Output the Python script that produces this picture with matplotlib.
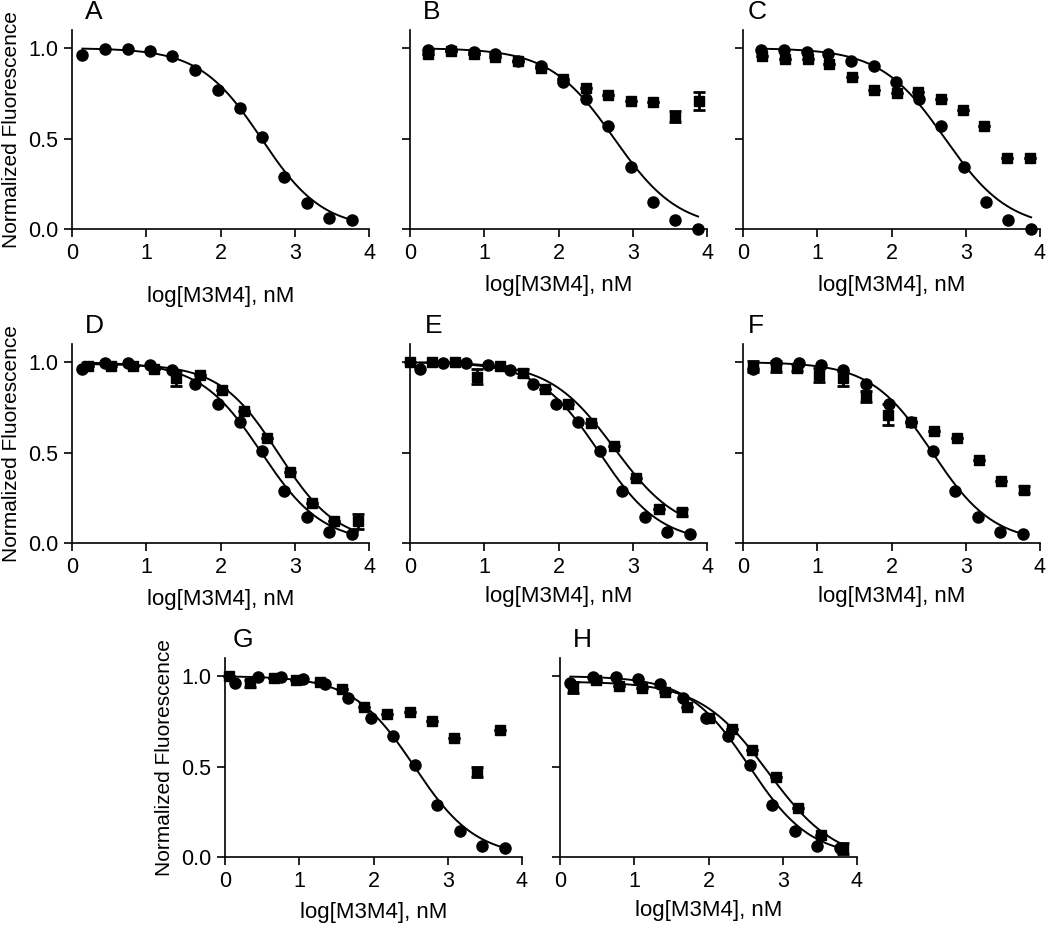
import numpy as np
import matplotlib
matplotlib.use("Agg")
import matplotlib.pyplot as plt

plt.rcParams['font.family'] = ['Liberation Sans', 'DejaVu Sans']

# reference (circles) shared by A, D, E, F, G, H
ref_x = [0.14, 0.45, 0.75, 1.05, 1.35, 1.66, 1.96, 2.26, 2.56, 2.86, 3.16, 3.46, 3.77]
ref_y = [0.96, 0.995, 0.995, 0.985, 0.955, 0.88, 0.77, 0.67, 0.51, 0.29, 0.145, 0.06, 0.05]

# circles in B and C
bc_x = [0.24, 0.55, 0.86, 1.15, 1.46, 1.76, 2.06, 2.37, 2.67, 2.97, 3.27, 3.57, 3.88]
bc_y = [0.99, 0.99, 0.98, 0.97, 0.93, 0.90, 0.81, 0.72, 0.57, 0.34, 0.15, 0.05, 0.0]

# squares per panel
b_sq_x = [0.24, 0.55, 0.86, 1.15, 1.46, 1.76, 2.06, 2.37, 2.67, 2.97, 3.27, 3.57, 3.89]
b_sq_y = [0.97, 0.985, 0.97, 0.95, 0.93, 0.89, 0.83, 0.78, 0.74, 0.71, 0.70, 0.62, 0.71]
b_sq_e = [0, 0, 0, 0, 0, 0, 0, 0, 0, 0, 0, 0.03, 0.05]

c_sq_x = [0.25, 0.57, 0.87, 1.16, 1.47, 1.77, 2.07, 2.36, 2.67, 2.96, 3.25, 3.56, 3.87]
c_sq_y = [0.955, 0.94, 0.94, 0.91, 0.84, 0.77, 0.75, 0.76, 0.72, 0.66, 0.57, 0.39, 0.39]
c_sq_e = [0] * 13

d_sq_x = [0.22, 0.52, 0.82, 1.10, 1.40, 1.72, 2.02, 2.32, 2.63, 2.93, 3.23, 3.53, 3.85]
d_sq_y = [0.98, 0.98, 0.98, 0.96, 0.91, 0.93, 0.845, 0.73, 0.58, 0.39, 0.22, 0.12, 0.12]
d_sq_e = [0, 0, 0, 0, 0.04, 0, 0, 0, 0, 0, 0, 0, 0.04]

e_sq_x = [0.0, 0.30, 0.60, 0.90, 1.21, 1.52, 1.82, 2.13, 2.44, 2.75, 3.05, 3.36, 3.67]
e_sq_y = [1.0, 1.0, 1.0, 0.92, 0.98, 0.94, 0.85, 0.77, 0.665, 0.535, 0.36, 0.19, 0.17]
e_sq_e = [0, 0, 0, 0.04, 0, 0.02, 0, 0, 0, 0, 0, 0, 0.02]

f_sq_x = [0.13, 0.45, 0.73, 1.02, 1.35, 1.65, 1.95, 2.26, 2.57, 2.88, 3.18, 3.47, 3.78]
f_sq_y = [0.975, 0.975, 0.97, 0.93, 0.91, 0.81, 0.71, 0.67, 0.62, 0.58, 0.46, 0.34, 0.295]
f_sq_e = [0.03, 0.03, 0.02, 0.04, 0.04, 0.03, 0.06, 0, 0, 0, 0, 0, 0.02]

g_sq_x = [0.06, 0.34, 0.66, 0.96, 1.28, 1.58, 1.87, 2.18, 2.49, 2.79, 3.09, 3.39, 3.70]
g_sq_y = [1.0, 0.96, 0.99, 0.98, 0.97, 0.93, 0.83, 0.79, 0.80, 0.75, 0.66, 0.47, 0.70]
g_sq_e = [0, 0.02, 0, 0, 0, 0, 0, 0, 0, 0, 0, 0.03, 0]

h_sq_x = [0.18, 0.48, 0.80, 1.11, 1.41, 1.71, 2.01, 2.32, 2.59, 2.91, 3.21, 3.51, 3.81]
h_sq_y = [0.936, 0.976, 0.945, 0.936, 0.91, 0.83, 0.77, 0.71, 0.59, 0.44, 0.27, 0.12, 0.046]
h_sq_e = [0.03, 0, 0, 0, 0, 0, 0, 0, 0, 0, 0, 0, 0.03]

# fitted curves: top, bottom, logIC50, hill slope
ref_fit = (1.0, 0.0, 2.55, 1.05)
b_fit = (1.0, 0.0, 2.75, 1.0)
c_fit = (1.0, 0.0, 2.72, 1.0)
d_sq_fit = (0.99, 0.0, 2.78, 1.1)
e_sq_fit = (1.0, 0.05, 2.75, 1.0)
h_sq_fit = (0.97, -0.03, 2.8, 0.95)

letters = ['A', 'B', 'C', 'D', 'E', 'F', 'G', 'H']


def hill(x, top, bottom, logc, h):
    return bottom + (top - bottom) / (1 + 10 ** ((x - logc) * h))


panels = [
    dict(circ=(ref_x, ref_y, ref_fit), sq=None),
    dict(circ=(bc_x, bc_y, b_fit), sq=(b_sq_x, b_sq_y, b_sq_e, None)),
    dict(circ=(bc_x, bc_y, c_fit), sq=(c_sq_x, c_sq_y, c_sq_e, None)),
    dict(circ=(ref_x, ref_y, ref_fit), sq=(d_sq_x, d_sq_y, d_sq_e, d_sq_fit)),
    dict(circ=(ref_x, ref_y, ref_fit), sq=(e_sq_x, e_sq_y, e_sq_e, e_sq_fit)),
    dict(circ=(ref_x, ref_y, ref_fit), sq=(f_sq_x, f_sq_y, f_sq_e, None)),
    dict(circ=(ref_x, ref_y, ref_fit), sq=(g_sq_x, g_sq_y, g_sq_e, None)),
    dict(circ=(ref_x, ref_y, ref_fit), sq=(h_sq_x, h_sq_y, h_sq_e, h_sq_fit)),
]

# layout in pixels: left edge of y-axis, pixel row of y=0
W, H = 1050, 925
lefts = [72, 410, 743, 72, 410, 743, 225, 560]
zeros = [229, 229, 229, 543, 543, 543, 857, 857]
letter_dx = [0.044, 0.044, 0.017, 0.044, 0.05, 0.017, 0.027, 0.044]
xlab_pad = [16, 8, 8, 8, 6, 6, 7, 6]
aw, ah = 297, 199

fig = plt.figure(figsize=(W / 100, H / 100), dpi=100)

for i, p in enumerate(panels):
    ax = fig.add_axes([lefts[i] / W, (H - zeros[i]) / H, aw / W, ah / H])
    ax.set_xlim(0, 4)
    ax.set_ylim(0, 1.1)
    for s in ['top', 'right']:
        ax.spines[s].set_visible(False)
    for s in ['left', 'bottom']:
        ax.spines[s].set_linewidth(1.2)
    ax.set_xticks([0, 1, 2, 3, 4])
    ax.set_yticks([0, 0.5, 1.0])
    ax.tick_params(direction='out', length=6, width=1.2, labelsize=15.5, pad=4)
    if i in (0, 3, 6):
        ax.set_yticklabels(['0.0', '0.5', '1.0'])
        ax.set_ylabel('Normalized Fluorescence', fontsize=15, labelpad=5)
    else:
        ax.set_yticklabels([])
    ax.set_xlabel('log[M3M4], nM', fontsize=16, labelpad=xlab_pad[i])

    cx, cy, cfit = p['circ']
    xs = np.linspace(min(cx), max(cx), 200)
    ax.plot(xs, hill(xs, *cfit), color='black', lw=1.4, clip_on=False)
    if p['sq'] is not None:
        sx, sy, se, sfit = p['sq']
        if sfit is not None:
            xs2 = np.linspace(min(sx), max(sx), 200)
            ax.plot(xs2, hill(xs2, *sfit), color='black', lw=1.4, clip_on=False)
        eb = ax.errorbar(sx, sy, yerr=se, fmt='s', color='black', ms=7.5,
                         capsize=4.5, capthick=2, elinewidth=2, clip_on=False)
        for art in eb.lines[1] + eb.lines[2]:
            art.set_clip_on(False)
    ax.plot(cx, cy, 'o', color='black', ms=8, clip_on=False)

    ax.text(letter_dx[i], 1.09, letters[i], transform=ax.transAxes,
            fontsize=19, ha='left', va='center')

fig.savefig('out.png', dpi=100)
